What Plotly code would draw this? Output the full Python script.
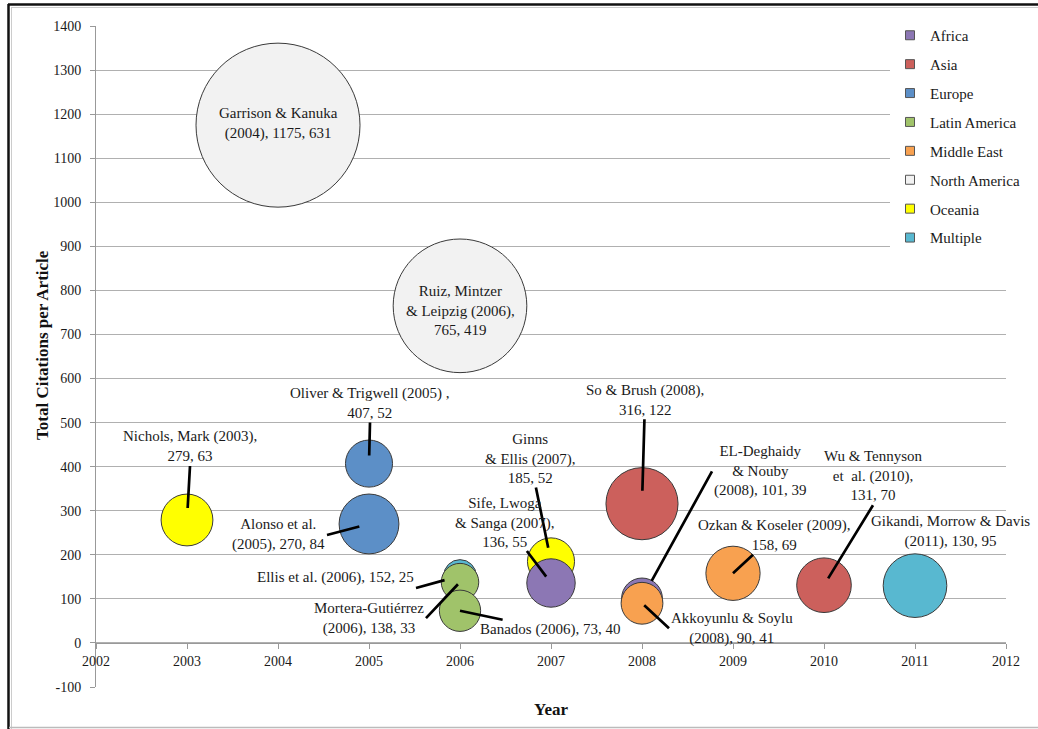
import plotly.graph_objects as go

# ---------------- data ----------------
regions = ["Africa", "Asia", "Europe", "Latin America", "Middle East",
           "North America", "Oceania", "Multiple"]
region_colors = ["#8C77B4", "#CC605C", "#5C8FC7", "#A0C36A", "#F8A150",
                 "#F2F2F2", "#FFFF00", "#58B8D0"]
# drawing order (later = on top), legend keeps the order above
draw_order = ["Oceania", "Multiple", "Africa", "Asia", "Europe",
              "Latin America", "Middle East", "North America"]

label_templates = [
    "Nichols, Mark ({y}),<br>{c}, {s}",
    "Garrison & Kanuka<br>({y}), {c}, {s}",
    "Oliver & Trigwell ({y}) ,<br>{c}, {s}",
    "Alonso et al.<br>({y}), {c}, {s}",
    "Ruiz, Mintzer<br>& Leipzig ({y}),<br>{c}, {s}",
    "Ellis et al. ({y}), {c}, {s}",
    "Mortera-Gutiérrez<br>({y}), {c}, {s}",
    "Banados ({y}), {c}, {s}",
    "Ginns<br>& Ellis ({y}),<br>{c}, {s}",
    "Sife, Lwoga<br>& Sanga ({y}),<br>{c}, {s}",
    "So & Brush ({y}),<br>{c}, {s}",
    "EL-Deghaidy<br>& Nouby<br>({y}), {c}, {s}",
    "Akkoyunlu & Soylu<br>({y}), {c}, {s}",
    "Ozkan & Koseler ({y}),<br>{c}, {s}",
    "Wu & Tennyson<br>et\u00a0 al. ({y}),<br>{c}, {s}",
    "Gikandi, Morrow & Davis<br>({y}), {c}, {s}",
]
years = [2003, 2004, 2005, 2005, 2006, 2006, 2006, 2006,
         2007, 2007, 2008, 2008, 2008, 2009, 2010, 2011]
citations = [279, 1175, 407, 270, 765, 152, 138, 73,
             185, 136, 316, 101, 90, 158, 131, 130]
bubble_sizes = [63, 631, 52, 84, 419, 25, 33, 40,
                52, 55, 122, 39, 41, 69, 70, 95]
point_region = ["Oceania", "North America", "Europe", "Europe", "North America",
                "Multiple", "Latin America", "Latin America",
                "Oceania", "Africa", "Asia", "Africa", "Middle East",
                "Middle East", "Asia", "Multiple"]

y_ticks = list(range(-100, 1401, 100))
x_ticks = list(range(2002, 2013))

# ---------------- layout constants ----------------
W, H = 1038, 729
ML, MR, MT, MB = 96, 32, 26, 42
PW, PH = W - ML - MR, H - MT - MB
FONT = "Liberation Serif, Times New Roman, serif"
MAX_DIAM = 164
LABEL_SIZE = 15


def px_x(p):
    return (p - ML) / PW


def px_y(p):
    return (H - MB - p) / PH


# label placement: (ax, ay, xanchor, yanchor, standoff) or None for no leader
label_style = [
    (3, -54, "center", "bottom", 12),
    None,
    (1, -41, "center", "bottom", 8),
    (-42, 11, "right", "middle", 10),
    None,
    (-44, 12, "right", "bottom", 16),
    (-34, 36, "right", "middle", 3),
    (90, 19, "center", "middle", 0),
    (-21, -103, "center", "middle", 14),
    (-46, -61, "center", "middle", 8),
    (3, -104, "center", "middle", 13),
    (70, -127, "left", "middle", 20),
    (27, 25, "left", "middle", 3),
    (41, -38, "center", "middle", 0),
    (49, -80, "center", "bottom", 8),
    None,
]
no_arrow_shift = {1: (0, 2), 4: (0, -5), 15: (35, 54)}

fig = go.Figure()
sizeref = 2.0 * max(bubble_sizes) / (MAX_DIAM ** 2)

for reg in draw_order:
    idx = [i for i, r in enumerate(point_region) if r == reg]
    col = region_colors[regions.index(reg)]
    fig.add_trace(go.Scatter(
        x=[years[i] for i in idx],
        y=[citations[i] for i in idx],
        mode="markers",
        marker=dict(size=[bubble_sizes[i] for i in idx], sizemode="area",
                    sizeref=sizeref, color=col, opacity=1,
                    line=dict(color="#3a3a3a", width=1)),
        showlegend=False, hoverinfo="skip", name=reg,
    ))

# legend entries (square swatches)
for reg, col in zip(regions, region_colors):
    fig.add_trace(go.Scatter(
        x=[None], y=[None], mode="markers", name=reg, legendgroup=reg,
        marker=dict(symbol="square", size=9, color=col,
                    line=dict(color="#555555", width=1)),
        showlegend=True,
    ))

annotations = []
for i, tmpl in enumerate(label_templates):
    text = tmpl.format(y=years[i], c=citations[i], s=bubble_sizes[i])
    st = label_style[i]
    if st is None:
        xs, ys = no_arrow_shift[i]
        annotations.append(dict(
            x=years[i], y=citations[i], xref="x", yref="y", text=text,
            showarrow=False, xshift=xs, yshift=ys,
            font=dict(family=FONT, size=LABEL_SIZE, color="#1a1a1a"), align="center"))
    else:
        ax, ay, xa, ya, so = st
        annotations.append(dict(
            x=years[i], y=citations[i], xref="x", yref="y", text=text,
            showarrow=True, ax=ax, ay=ay, axref="pixel", ayref="pixel",
            xanchor=xa, yanchor=ya, arrowhead=0, arrowwidth=2.7,
            arrowcolor="#000000", standoff=so, borderpad=1,
            font=dict(family=FONT, size=LABEL_SIZE, color="#1a1a1a"), align="center"))

# axis titles
annotations.append(dict(
    x=0.5, y=px_y(710), xref="paper", yref="paper", text="<b>Year</b>",
    showarrow=False, font=dict(family=FONT, size=17, color="#111111"),
    xanchor="center", yanchor="middle"))
annotations.append(dict(
    x=px_x(42), y=px_y(345), xref="paper", yref="paper",
    text="<b>Total Citations per Article</b>", textangle=-90,
    showarrow=False, font=dict(family=FONT, size=17, color="#111111"),
    xanchor="center", yanchor="middle"))

shapes = [
    dict(type="line", xref="paper", yref="paper", x0=px_x(8.5), x1=px_x(8.5),
         y0=px_y(4), y1=px_y(729), line=dict(color="#111111", width=2.5)),
    dict(type="line", xref="paper", yref="paper", x0=px_x(8), x1=px_x(1038),
         y0=px_y(4.5), y1=px_y(4.5), line=dict(color="#111111", width=2.5)),
    dict(type="line", xref="paper", yref="paper", x0=px_x(11.5), x1=px_x(11.5),
         y0=px_y(7), y1=px_y(729), line=dict(color="#cccccc", width=1)),
    dict(type="line", xref="paper", yref="paper", x0=px_x(11), x1=px_x(1038),
         y0=px_y(7.5), y1=px_y(7.5), line=dict(color="#cccccc", width=1)),
    dict(type="line", xref="paper", yref="paper", x0=px_x(9), x1=px_x(1038),
         y0=px_y(727.5), y1=px_y(727.5), line=dict(color="#bbbbbb", width=1.5)),
]

zero_pos = (0 - y_ticks[0]) / (y_ticks[-1] - y_ticks[0])

fig.update_layout(
    width=W, height=H,
    margin=dict(l=ML, r=MR, t=MT, b=MB, pad=0),
    paper_bgcolor="white", plot_bgcolor="white",
    font=dict(family=FONT, size=14, color="#1a1a1a"),
    xaxis=dict(range=[x_ticks[0], x_ticks[-1]], tickvals=x_ticks,
               ticktext=[str(v) for v in x_ticks],
               ticks="outside", ticklen=5, tickcolor="#999999",
               showline=True, linecolor="#999999", linewidth=1,
               showgrid=False, zeroline=False, anchor="free",
               position=zero_pos, tickfont=dict(family=FONT, size=14)),
    yaxis=dict(range=[y_ticks[0], y_ticks[-1]], tickvals=y_ticks,
               ticktext=[str(v) for v in y_ticks],
               ticks="outside", ticklen=5, tickcolor="#999999",
               showline=True, linecolor="#999999", linewidth=1,
               showgrid=True, gridcolor="#b0b0b0", gridwidth=1,
               zeroline=False, ticklabelstandoff=6,
               tickfont=dict(family=FONT, size=14)),
    legend=dict(x=px_x(890), y=px_y(19), xanchor="left", yanchor="top",
                bgcolor="white", font=dict(family=FONT, size=15, color="#1a1a1a"),
                tracegroupgap=6.4),
    annotations=annotations,
    shapes=shapes,
    hovermode=False,
)

fig.write_html(
    "out.html",
    config={"displayModeBar": False},
    post_script="document.body.style.margin='0';document.body.style.overflow='hidden';",
)
